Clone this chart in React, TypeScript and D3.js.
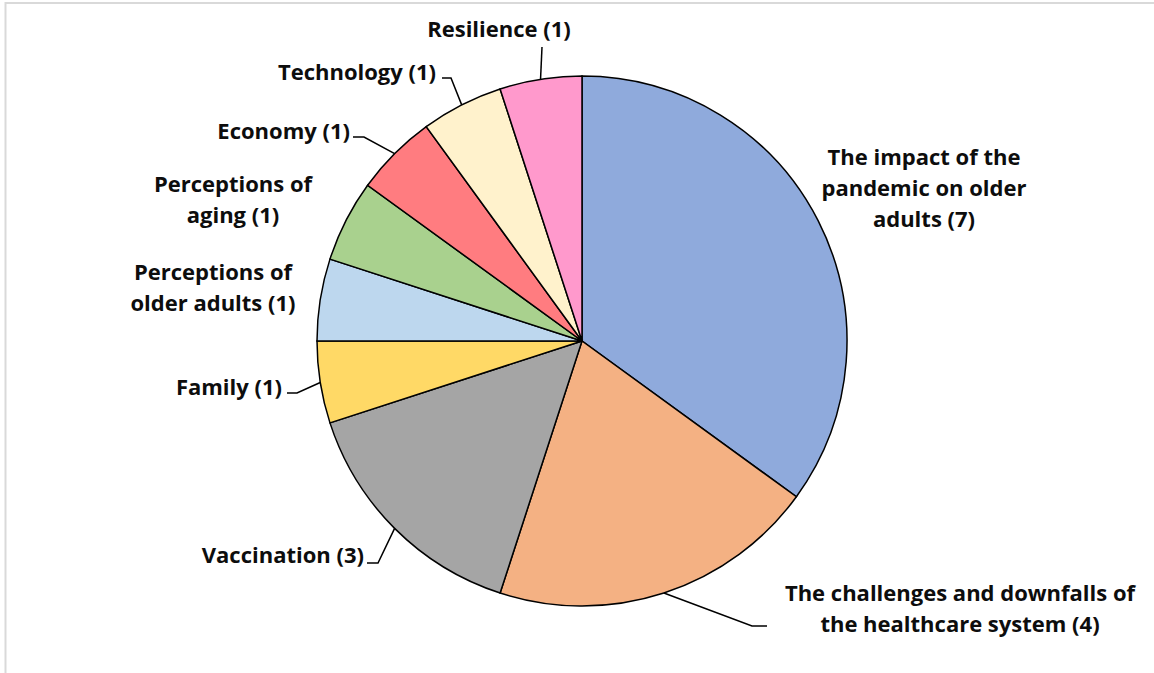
import React from "react";
import * as d3 from "d3";

const categories = [
  "The impact of the pandemic on older adults",
  "The challenges and downfalls of the healthcare system",
  "Vaccination",
  "Family",
  "Perceptions of older adults",
  "Perceptions of aging",
  "Economy",
  "Technology",
  "Resilience",
];
const values = [7, 4, 3, 1, 1, 1, 1, 1, 1];
const colors = ["#8FAADC", "#F4B183", "#A5A5A5", "#FFD966", "#BDD7EE", "#A9D18E", "#FF7C80", "#FFF2CC", "#FF99CC"];
const labelLines = [
  ["The impact of the", "pandemic on older", "adults (7)"],
  ["The challenges and downfalls of", "the healthcare system (4)"],
  ["Vaccination (3)"],
  ["Family (1)"],
  ["Perceptions of", "older adults (1)"],
  ["Perceptions of", "aging (1)"],
  ["Economy (1)"],
  ["Technology (1)"],
  ["Resilience (1)"],
];

// layout of labels (x, first baseline, anchor, leader elbow points)
type Lay = { x: number; y: number; anchor: string; leader?: [number, number][] };
const layout: Lay[] = [
  { x: 924, y: 165, anchor: "middle" },
  { x: 960, y: 601, anchor: "middle", leader: [[767, 626], [752, 626]] },
  { x: 364, y: 563, anchor: "end", leader: [[367, 563], [378, 563]] },
  { x: 282, y: 395, anchor: "end", leader: [[287, 393], [297, 393]] },
  { x: 213, y: 280, anchor: "middle" },
  { x: 233, y: 192, anchor: "middle" },
  { x: 350, y: 139, anchor: "end", leader: [[353, 137], [364, 137]] },
  { x: 436, y: 80, anchor: "end", leader: [[442, 78], [451, 78]] },
  { x: 499, y: 37, anchor: "middle", leader: [[542, 47]] },
];

const W = 1154;
const H = 673;
const cx = 582;
const cy = 341;
const R = 265;
const lineH = 31;

export default function App() {
  const pie = d3.pie<number>().sort(null).value((d) => d)(values);
  const arc = d3.arc<d3.PieArcDatum<number>>().innerRadius(0).outerRadius(R);
  return (
    <svg width={W} height={H} style={{ position: "absolute", left: 0, top: 0, background: "#fff" }}>
      <rect x={5.5} y={3} width={W + 10} height={H + 10} fill="#fff" stroke="#d9d9d9" strokeWidth={2} />
      <g transform={`translate(${cx},${cy})`}>
        {pie.map((p, i) => (
          <path key={i} d={arc(p) || ""} fill={colors[i]} stroke="#000" strokeWidth={1.5} />
        ))}
      </g>
      {pie.map((p, i) => {
        const L = layout[i];
        if (!L.leader) return null;
        const mid = (p.startAngle + p.endAngle) / 2;
        const ex = cx + R * Math.sin(mid);
        const ey = cy - R * Math.cos(mid);
        const pts = [...L.leader, [ex, ey]] as [number, number][];
        return <path key={"l" + i} d={d3.line()(pts) || ""} fill="none" stroke="#000" strokeWidth={1.5} />;
      })}
      {labelLines.map((lines, i) => {
        const L = layout[i];
        return (
          <text
            key={"t" + i}
            x={L.x}
            y={L.y}
            textAnchor={L.anchor as any}
            fontFamily="'Open Sans', sans-serif"
            fontWeight={700}
            fontSize={22}
            fill="#0d0d0d"
          >
            {lines.map((ln, j) => (
              <tspan key={j} x={L.x} y={L.y + j * lineH}>
                {ln}
              </tspan>
            ))}
          </text>
        );
      })}
      <text x={-100} y={-100} style={{ display: "none" }}>{categories.join(",")}</text>
    </svg>
  );
}
